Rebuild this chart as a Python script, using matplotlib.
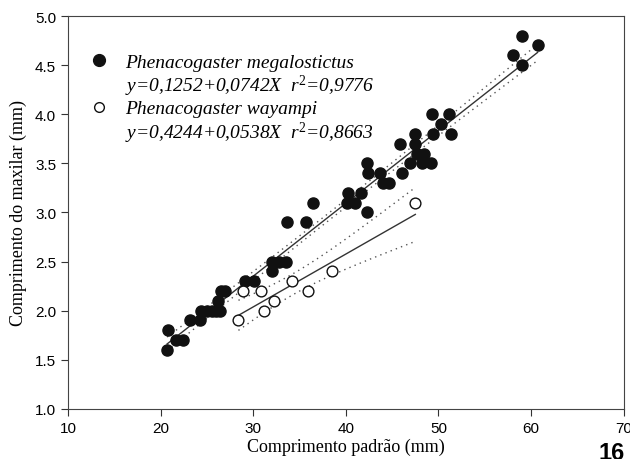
import numpy as np
import matplotlib.pyplot as plt
from matplotlib.lines import Line2D

plt.rcParams['mathtext.fontset'] = 'custom'
plt.rcParams['mathtext.rm'] = 'Liberation Serif'
plt.rcParams['mathtext.it'] = 'Liberation Serif:italic'

# Phenacogaster megalostictus (filled)
meg_x = [20.7, 21.7, 22.4, 20.8, 23.2, 24.3, 24.4, 25.0, 25.5, 26.0, 26.4,
         26.2, 26.5, 27.0, 29.1, 30.1, 32.0, 32.0, 32.8, 33.5, 33.6, 35.7,
         42.3, 36.5, 40.1, 41.0, 40.2, 41.6, 44.0, 44.7, 42.4, 43.7, 46.1,
         42.3, 46.9, 48.2, 49.2, 47.7, 48.4, 45.8, 47.5, 47.5, 49.4, 51.4,
         50.3, 49.3, 51.1, 59.0, 58.0, 60.7, 59.0]
meg_y = [1.6, 1.7, 1.7, 1.8, 1.9, 1.9, 2.0, 2.0, 2.0, 2.0, 2.0,
         2.1, 2.2, 2.2, 2.3, 2.3, 2.4, 2.5, 2.5, 2.5, 2.9, 2.9,
         3.0, 3.1, 3.1, 3.1, 3.2, 3.2, 3.3, 3.3, 3.4, 3.4, 3.4,
         3.5, 3.5, 3.5, 3.5, 3.6, 3.6, 3.7, 3.7, 3.8, 3.8, 3.8,
         3.9, 4.0, 4.0, 4.5, 4.6, 4.7, 4.8]
meg_fit = (0.1252, 0.0742, 0.9776)

# Phenacogaster wayampi (open)
way_x = [28.4, 31.2, 32.2, 28.9, 30.8, 35.9, 34.2, 38.5, 47.5]
way_y = [1.9, 2.0, 2.1, 2.2, 2.2, 2.2, 2.3, 2.4, 3.1]
way_fit = (0.4244, 0.0538, 0.8663)


def ci_band(x, y, a, b, t):
    x = np.asarray(x); y = np.asarray(y)
    n = len(x)
    xs = np.linspace(x.min(), x.max(), 100)
    s = np.sqrt(np.sum((y - (a + b * x)) ** 2) / (n - 2))
    sxx = np.sum((x - x.mean()) ** 2)
    h = t * s * np.sqrt(1 / n + (xs - x.mean()) ** 2 / sxx)
    yh = a + b * xs
    return xs, yh, yh - h, yh + h


fig = plt.figure(figsize=(6.3, 4.6), dpi=100)
ax = fig.add_axes([0.108, 0.109, 0.882, 0.854])

for xd, yd, fit, t in [(meg_x, meg_y, meg_fit, 2.01), (way_x, way_y, way_fit, 2.365)]:
    xs, yh, lo, hi = ci_band(xd, yd, fit[0], fit[1], t)
    ax.plot(xs, yh, color='#333333', lw=1.0)
    ax.plot(xs, lo, color='#555555', lw=1.0, ls=(0, (1, 3)))
    ax.plot(xs, hi, color='#555555', lw=1.0, ls=(0, (1, 3)))

ax.scatter(meg_x, meg_y, s=64, color='#111111', zorder=3)
ax.scatter(way_x, way_y, s=60, facecolor='white', edgecolor='#111111', lw=1.0, zorder=3)

ax.set_xlim(10, 70)
ax.set_ylim(1.0, 5.0)
ax.set_xticks(np.arange(10, 71, 10))
ax.set_yticks(np.arange(1.0, 5.01, 0.5))
ax.set_yticklabels([f'{v:.1f}' for v in np.arange(1.0, 5.01, 0.5)])
ax.tick_params(direction='out', length=5, labelsize=11, color='#333333')
for lab in ax.get_xticklabels() + ax.get_yticklabels():
    lab.set_family('Liberation Sans')
for sp in ax.spines.values():
    sp.set_color('#444444')

ax.set_xlabel('Comprimento padrão (mm)', family='Liberation Serif', fontsize=13, labelpad=2)
ax.set_ylabel('Comprimento do maxilar (mm)', family='Liberation Serif', fontsize=13, labelpad=6)

def eq(fit):
    a, b, r2 = fit
    fmt = lambda v: f'{v:.4f}'.replace('.', ',')
    return f'y={fmt(a)}+{fmt(b)}X  r$^{{2}}$={fmt(r2)}'

blank = Line2D([], [], ls='none', marker=None)
handles = [Line2D([], [], ls='none', marker='o', ms=8.5, color='#111111'), blank,
           Line2D([], [], ls='none', marker='o', ms=7, mfc='white', mec='#111111'), blank]
labels = ['Phenacogaster megalostictus', eq(meg_fit), 'Phenacogaster wayampi', eq(way_fit)]
leg = ax.legend(handles, labels, loc='upper left', frameon=False, handletextpad=0.3,
                labelspacing=0.1, bbox_to_anchor=(-0.01, 0.95),
                prop={'family': 'Liberation Serif', 'style': 'italic', 'size': 14})

fig.text(0.95, -0.01, '16', fontsize=17, fontweight='bold', family='Liberation Sans',
         ha='left', va='bottom')

fig.savefig('out.png', dpi=100)
